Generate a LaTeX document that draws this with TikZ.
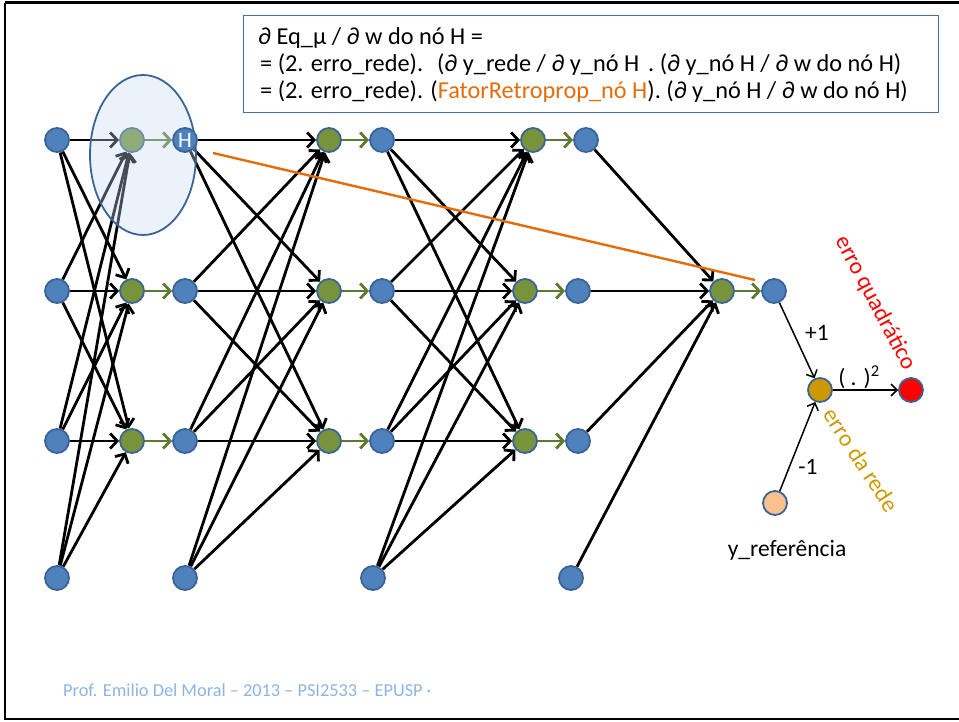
\documentclass[tikz,border=0pt]{standalone}
\usepackage{fontspec}
\setmainfont{Carlito}
\usetikzlibrary{arrows.meta,shapes.geometric}
\definecolor{nblue}{HTML}{4F81BD}
\definecolor{nborder}{HTML}{3B6496}
\definecolor{ngreen}{HTML}{77933C}
\definecolor{agreen}{HTML}{5F7A30}
\definecolor{ngold}{HTML}{CC9900}
\definecolor{npeach}{HTML}{FAC090}
\definecolor{norange}{HTML}{E46C0A}
\definecolor{efill}{HTML}{C6D9F1}
\definecolor{footc}{HTML}{8EB4E3}
\definecolor{boxc}{HTML}{4A6FA5}
\pgfdeclarelayer{edges}
\pgfdeclarelayer{veil}
\pgfdeclarelayer{top}
\pgfsetlayers{edges,main,veil,top}
\begin{document}
\begin{tikzpicture}[x=1pt,y=-1pt,
  neuron/.style={circle, minimum size=24pt, inner sep=0pt, draw=nborder, line width=1.8pt},
  bluen/.style={neuron, fill=nblue},
  greenn/.style={neuron, fill=ngreen},
  conn/.style={line width=2.8pt, -{Straight Barb[length=7pt,width=15pt]}},
  gconn/.style={conn, draw=agreen},
  thinconn/.style={line width=1.5pt, -{Straight Barb[length=6pt,width=12pt]}},
  lbl/.style={inner sep=0pt, font=\fontsize{23.5}{26}\selectfont},
  ftxt/.style={anchor=base west, inner sep=0pt, font=\fontsize{24.3}{27}\selectfont}
  ]
\useasboundingbox (0,0) rectangle (959,722);
% frame
\draw[line width=3pt] (959,3) -- (5,3);
\draw[line width=2pt] (5,3) -- (5,719) -- (959,719);

% nodes
\node[bluen] (A1) at (57,140) {};
\node[bluen] (A2) at (57,291) {};
\node[bluen] (A3) at (57,441) {};
\node[bluen] (A4) at (57,578) {};
\node[greenn] (B1) at (132,140) {};
\node[greenn] (B2) at (132,291) {};
\node[greenn] (B3) at (132,441) {};
\begin{pgfonlayer}{top}
\node[bluen, text=white, font=\fontsize{22}{22}\selectfont] (C1) at (185,140) {H};
\end{pgfonlayer}
\node[bluen] (C2) at (185,291) {};
\node[bluen] (C3) at (185,441) {};
\node[bluen] (C4) at (185,578) {};
\node[greenn] (D1) at (329,140) {};
\node[greenn] (D2) at (329,291) {};
\node[greenn] (D3) at (329,441) {};
\node[bluen] (E1) at (382,140) {};
\node[bluen] (E2) at (382,291) {};
\node[bluen] (E3) at (382,441) {};
\node[bluen] (E4) at (373,578) {};
\node[greenn] (F1) at (533,140) {};
\node[greenn] (F2) at (525,291) {};
\node[greenn] (F3) at (525,441) {};
\node[bluen] (G1) at (586,140) {};
\node[bluen] (G2) at (578,291) {};
\node[bluen] (G3) at (578,441) {};
\node[bluen] (G4) at (571,578) {};
\node[greenn] (O) at (722,291) {};
\node[bluen] (Y) at (774,291) {};
\node[neuron, fill=ngold] (Err) at (820,390) {};
\node[neuron, fill=red] (R) at (911,390) {};
\node[neuron, fill=npeach] (Ref) at (775,503) {};

% edges
\begin{pgfonlayer}{edges}
\foreach \i in {1,...,4}{
  \foreach \j in {1,2,3}{
    \draw[conn] (A\i) -- (B\j);
    \draw[conn] (C\i) -- (D\j);
    \draw[conn] (E\i) -- (F\j);
  }
  \draw[conn] (G\i) -- (O);
}
\foreach \j in {1,2,3}{
  \draw[gconn] (B\j) -- (C\j);
  \draw[gconn] (D\j) -- (E\j);
  \draw[gconn] (F\j) -- (G\j);
}
\draw[gconn] (O) -- (Y);
\end{pgfonlayer}

\draw[thinconn] (Y) -- (Err);
\draw[thinconn] (Ref) -- (Err);
\draw[thinconn] (Err) -- (R);

% orange line
\coordinate (os) at (213,153);
\coordinate (oe) at (755,280);
\draw[norange, line width=2.4pt] (os) -- (oe);

% ellipse highlight
\begin{pgfonlayer}{veil}
\node[ellipse, draw=nborder, line width=1.8pt, fill=efill, fill opacity=0.35,
      minimum width=106pt, minimum height=160pt, inner sep=0pt] (hl) at (143,155) {};
\end{pgfonlayer}

% labels
\node[lbl] (lp1) at (817,333) {+1};
\node[lbl] (lm1) at (808,467) {-1};
\node[lbl] (lsq) at (859,377) {( . )\textsuperscript{2}};
\node[lbl] (lref) at (787,550) {y\_referência};
\node[lbl, text=red, rotate=-62] (lquad) at (875,303) {erro quadrático};
\node[lbl, text=ngold, rotate=-57] (lrede) at (861,460) {erro da rede};

% formula box
\node[draw=boxc, line width=1.2pt, minimum width=695pt, minimum height=97pt,
      anchor=north west, inner sep=0pt] (formula) at (243,15) {};
\node[ftxt] (f1) at (258,45) {∂ Eq\_µ / ∂ w do nó H =};
\node[ftxt] (f2) at (260,72) {= (2. erro\_rede).\hspace{14pt}(∂ y\_rede / ∂ y\_nó H\hspace{9pt}. (∂ y\_nó H / ∂ w do nó H)};
\node[ftxt] (f3) at (260,99) {= (2. erro\_rede). (\textcolor{norange}{FatorRetroprop\_nó H}). (∂ y\_nó H / ∂ w do nó H)};

% footer
\node[anchor=west, inner sep=0pt, text=footc, font=\fontsize{18.3}{21}\selectfont] (footer) at (63,690)
  {Prof. Emilio Del Moral – 2013 – PSI2533 – EPUSP ·};
\end{tikzpicture}
\end{document}
